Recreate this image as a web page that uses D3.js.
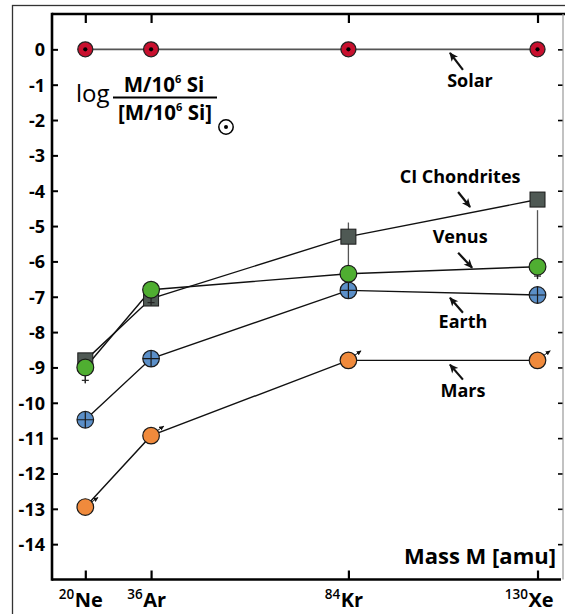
<!DOCTYPE html>
<html>
<head>
<meta charset="utf-8">
<script src="https://cdn.jsdelivr.net/npm/d3@7"></script>
<style>
  html, body { margin: 0; padding: 0; background: #fff; }
  svg { display: block; }
  text { font-family: "Open Sans", "Noto Sans", sans-serif; }
</style>
</head>
<body>
<div id="chart"></div>
<script>
// Noble gas abundances relative to solar, log[(M/10^6 Si)/(M/10^6 Si)_sun]
const elements = ["Ne", "Ar", "Kr", "Xe"];
const massNumbers = ["20", "36", "84", "130"];
const masses = [20, 36, 84, 130];
const yTicks = [0, -1, -2, -3, -4, -5, -6, -7, -8, -9, -10, -11, -12, -13, -14];

const solar        = [0, 0, 0, 0];
const ciChondrites = [-8.8, -7.05, -5.3, -4.25];
const venus        = [-9.0, -6.8, -6.35, -6.15];
const earth        = [-10.48, -8.75, -6.82, -6.95];
const mars         = [-12.95, -10.93, -8.8, -8.8];

// error bars: [mass, high, low]
const ciErrors    = [[84, -4.9, -6.35]];
const venusErrors = [[20, -9.0, -9.45], [36, -6.8, -7.25], [130, -4.55, -6.5]];

// labels pointing at each series: arrow tip in data space, tail/text offsets in px
const seriesNames = ["Solar", "CI Chondrites", "Venus", "Earth", "Mars"];
const labelTipMass  = [108.7, 113.6, 114.1, 108.7, 108.7];
const labelTipValue = [-0.1, -4.46, -6.18, -7.03, -8.92];
const labelTail = [[13, 17], [-12, -15], [-14, -15], [13, 15], [13, 15]];
const labelText = [[20, 34], [-10, -24], [-12, -25], [13, 30], [13, 32]];

const W = 565, H = 614;
const plot = { left: 52, right: 563, top: 14, bottom: 579.5 };

const svg = d3.select("#chart").append("svg")
  .attr("width", W).attr("height", H);

const defs = svg.append("defs");
defs.append("marker")
  .attr("id", "head").attr("markerUnits", "userSpaceOnUse")
  .attr("viewBox", "0 -5 10 10").attr("refX", 9).attr("refY", 0)
  .attr("markerWidth", 10).attr("markerHeight", 9).attr("orient", "auto")
  .append("path").attr("d", "M0,-4.5L10,0L0,4.5L2.5,0Z").attr("fill", "#111");
defs.append("marker")
  .attr("id", "smallhead").attr("markerUnits", "userSpaceOnUse")
  .attr("viewBox", "0 -5 10 10").attr("refX", 9).attr("refY", 0)
  .attr("markerWidth", 5).attr("markerHeight", 5).attr("orient", "auto")
  .append("path").attr("d", "M0,-4.5L10,0L0,4.5Z").attr("fill", "#111");

// outer frame
svg.append("rect")
  .attr("x", 12.5).attr("y", 5.5).attr("width", 700).attr("height", 700)
  .attr("fill", "none").attr("stroke", "#333").attr("stroke-width", 1.3);

const x = d3.scaleLinear().domain([11.9, 136.2]).range([plot.left, plot.right]);
const y = d3.scaleLinear().domain([-15, 1]).range([plot.bottom, plot.top]);

// axes
const axLeft = svg.append("g").attr("transform", `translate(${plot.left},0)`)
  .call(d3.axisLeft(y).tickValues(yTicks).tickSize(-6).tickPadding(7).tickFormat(d => String(d)));
axLeft.select(".domain").remove();
axLeft.selectAll(".tick line").attr("stroke", "#000").attr("stroke-width", 2);
axLeft.selectAll(".tick text")
  .attr("font-size", 18).attr("font-weight", 700).attr("fill", "#000")
  .attr("font-family", "'Open Sans', sans-serif").attr("dy", "0.36em");

const axRight = svg.append("g").attr("transform", `translate(${plot.right},0)`)
  .call(d3.axisRight(y).tickValues(yTicks).tickSize(-5).tickFormat(""));
axRight.select(".domain").remove();
axRight.selectAll(".tick line").attr("stroke", "#000").attr("stroke-width", 1.6);

const axTop = svg.append("g").attr("transform", `translate(0,${plot.top})`)
  .call(d3.axisTop(x).tickValues(masses).tickSize(-9).tickFormat(""));
axTop.select(".domain").remove();
axTop.selectAll(".tick line").attr("stroke", "#000").attr("stroke-width", 2.2);

const axBottom = svg.append("g").attr("transform", `translate(0,${plot.bottom})`)
  .call(d3.axisBottom(x).tickValues(masses).tickSize(-9).tickFormat(""));
axBottom.select(".domain").remove();
axBottom.selectAll(".tick line").attr("stroke", "#000").attr("stroke-width", 2.2);

// isotope labels: element symbol centred on the tick, mass number superscript to its left
axBottom.selectAll(".tick").each(function(d, i) {
  const g = d3.select(this);
  const el = g.append("text")
    .attr("x", 3).attr("y", 27.5)
    .attr("text-anchor", "middle")
    .attr("font-size", 20).attr("font-weight", 700).attr("fill", "#000")
    .text(elements[i]);
  const w = el.node().getComputedTextLength();
  g.append("text")
    .attr("x", 3 - w / 2 - 0.5).attr("y", 19.5)
    .attr("text-anchor", "end")
    .attr("font-size", 13.5).attr("font-weight", 600).attr("fill", "#000")
    .text(massNumbers[i]);
});

// spines
svg.append("line").attr("x1", plot.left).attr("x2", plot.left)
  .attr("y1", plot.top - 1.2).attr("y2", plot.bottom + 1.2)
  .attr("stroke", "#000").attr("stroke-width", 2.6);
svg.append("line").attr("x1", plot.left).attr("x2", W)
  .attr("y1", plot.top).attr("y2", plot.top)
  .attr("stroke", "#000").attr("stroke-width", 2.6);
svg.append("line").attr("x1", plot.left).attr("x2", plot.right - 2)
  .attr("y1", plot.bottom).attr("y2", plot.bottom)
  .attr("stroke", "#000").attr("stroke-width", 2.6);
svg.append("line").attr("x1", plot.right).attr("x2", plot.right)
  .attr("y1", plot.top).attr("y2", plot.bottom)
  .attr("stroke", "#999").attr("stroke-width", 1.2);

// axis title
svg.append("text")
  .attr("x", plot.right - 7).attr("y", plot.bottom - 16)
  .attr("text-anchor", "end")
  .attr("font-size", 22).attr("font-weight", 700).attr("fill", "#000")
  .text("Mass M [amu]");

// y label: log of the ratio to solar
const yl = svg.append("g").attr("transform", "translate(76,0)");
yl.append("text").attr("x", 0).attr("y", 102)
  .attr("font-size", 24).attr("font-weight", 400).attr("fill", "#000").text("log");
const num = yl.append("text").attr("x", 88).attr("y", 92)
  .attr("text-anchor", "middle")
  .attr("font-size", 20.5).attr("font-weight", 700).attr("fill", "#000");
num.append("tspan").text("M/10");
num.append("tspan").attr("font-size", 11).attr("dy", -9).text("6");
num.append("tspan").attr("dy", 9).text(" Si");
yl.append("line").attr("x1", 37).attr("x2", 141).attr("y1", 97.5).attr("y2", 97.5)
  .attr("stroke", "#000").attr("stroke-width", 2);
const den = yl.append("text").attr("x", 89).attr("y", 120)
  .attr("text-anchor", "middle")
  .attr("font-size", 20.5).attr("font-weight", 700).attr("fill", "#000");
den.append("tspan").text("[M/10");
den.append("tspan").attr("font-size", 11).attr("dy", -9).text("6");
den.append("tspan").attr("dy", 9).text(" Si]");
yl.append("circle").attr("cx", 150).attr("cy", 127).attr("r", 7.2)
  .attr("fill", "none").attr("stroke", "#000").attr("stroke-width", 1.5);
yl.append("circle").attr("cx", 150).attr("cy", 127).attr("r", 2).attr("fill", "#000");

// connecting lines
const pts = vals => masses.map((m, i) => [x(m), y(vals[i])]);
const line = d3.line();
svg.append("path").attr("d", line(pts(solar)))
  .attr("fill", "none").attr("stroke", "#555").attr("stroke-width", 1.8);
[ciChondrites, venus, earth, mars].forEach(v => {
  svg.append("path").attr("d", line(pts(v)))
    .attr("fill", "none").attr("stroke", "#111").attr("stroke-width", 1.4);
});

// error bars
ciErrors.forEach(([m, hi, lo]) => {
  svg.append("line").attr("x1", x(m)).attr("x2", x(m)).attr("y1", y(hi)).attr("y2", y(lo))
    .attr("stroke", "#555").attr("stroke-width", 1.3);
});
venusErrors.forEach(([m, hi, lo]) => {
  svg.append("line").attr("x1", x(m)).attr("x2", x(m)).attr("y1", y(hi)).attr("y2", y(lo))
    .attr("stroke", "#555").attr("stroke-width", 1.3);
});

// markers
const gSolar = svg.append("g");
masses.forEach((m, i) => {
  gSolar.append("circle").attr("cx", x(m)).attr("cy", y(solar[i])).attr("r", 7.5)
    .attr("fill", "#c8102e").attr("stroke", "#222").attr("stroke-width", 1.3);
  gSolar.append("circle").attr("cx", x(m)).attr("cy", y(solar[i])).attr("r", 2.1).attr("fill", "#000");
});

const gCI = svg.append("g");
masses.forEach((m, i) => {
  gCI.append("rect").attr("x", x(m) - 7.5).attr("y", y(ciChondrites[i]) - 7.5)
    .attr("width", 15).attr("height", 15)
    .attr("fill", "#4f5954").attr("stroke", "#1a1a1a").attr("stroke-width", 1);
});

// small caps at the low end of the Venus error bars
venusErrors.forEach(([m, hi, lo]) => {
  svg.append("line").attr("x1", x(m)).attr("x2", x(m)).attr("y1", y(lo) - 8).attr("y2", y(lo))
    .attr("stroke", "#222").attr("stroke-width", 1.2);
  svg.append("line").attr("x1", x(m) - 3.5).attr("x2", x(m) + 3.5)
    .attr("y1", y(lo) - 3).attr("y2", y(lo) - 3)
    .attr("stroke", "#222").attr("stroke-width", 1.2);
});

const gEarth = svg.append("g");
masses.forEach((m, i) => {
  const cx = x(m), cy = y(earth[i]), r = 8.3;
  gEarth.append("circle").attr("cx", cx).attr("cy", cy).attr("r", r)
    .attr("fill", "#5b8fc8").attr("stroke", "#1a1a1a").attr("stroke-width", 1.2);
  gEarth.append("path").attr("d", `M${cx - r},${cy}H${cx + r}M${cx},${cy - r}V${cy + r}`)
    .attr("stroke", "#1a1a1a").attr("stroke-width", 1.2);
});

const gVenus = svg.append("g");
masses.forEach((m, i) => {
  gVenus.append("circle").attr("cx", x(m)).attr("cy", y(venus[i])).attr("r", 8.4)
    .attr("fill", "#4fae31").attr("stroke", "#1a1a1a").attr("stroke-width", 1.2);
});

const gMars = svg.append("g");
masses.forEach((m, i) => {
  const cx = x(m), cy = y(mars[i]), r = 8.3;
  gMars.append("circle").attr("cx", cx).attr("cy", cy).attr("r", r)
    .attr("fill", "#f08a3c").attr("stroke", "#1a1a1a").attr("stroke-width", 1.2);
  gMars.append("line")
    .attr("x1", cx + r * 0.75).attr("y1", cy - r * 0.6)
    .attr("x2", cx + r * 0.75 + 6.5).attr("y2", cy - r * 0.6 - 4.5)
    .attr("stroke", "#111").attr("stroke-width", 1)
    .attr("marker-end", "url(#smallhead)");
});

// series labels with arrows
seriesNames.forEach((name, i) => {
  const tx = x(labelTipMass[i]), ty = y(labelTipValue[i]);
  svg.append("line")
    .attr("x1", tx + labelTail[i][0]).attr("y1", ty + labelTail[i][1])
    .attr("x2", tx).attr("y2", ty)
    .attr("stroke", "#111").attr("stroke-width", 2.2)
    .attr("marker-end", "url(#head)");
  svg.append("text")
    .attr("x", tx + labelText[i][0]).attr("y", ty + labelText[i][1])
    .attr("text-anchor", "middle")
    .attr("font-size", 18).attr("font-weight", 700).attr("fill", "#000")
    .text(name);
});
</script>
</body>
</html>
